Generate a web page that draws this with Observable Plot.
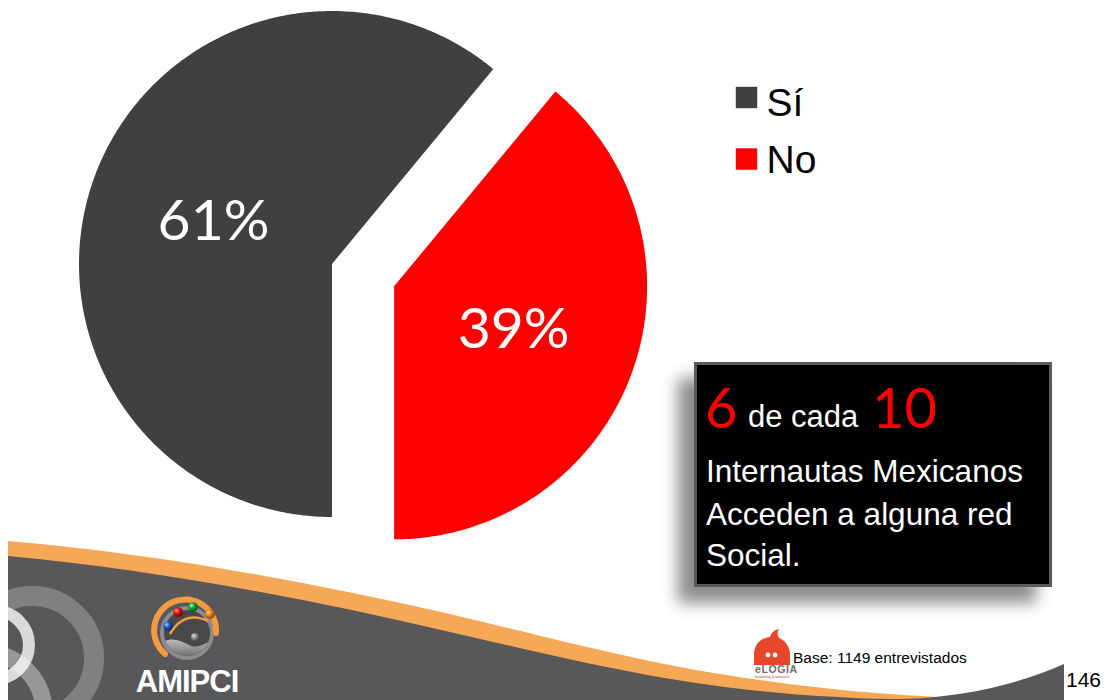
<!DOCTYPE html>
<html><head><meta charset="utf-8">
<script src="https://cdn.jsdelivr.net/npm/d3@7"></script>
<script src="https://cdn.jsdelivr.net/npm/@observablehq/plot@0.6"></script>
<style>
html,body{margin:0;padding:0;background:#fff;}
#wrap{position:relative;width:1104px;height:700px;overflow:hidden;background:#fff;}
#wrap > svg{position:absolute;left:0;top:0;}
</style></head><body>
<div id="wrap">
<svg id="decor" width="1104" height="700" viewBox="0 0 1104 700" xmlns="http://www.w3.org/2000/svg">
<defs>
  <clipPath id="band"><path d="M8,556 C150,569 300,597 450,632 C560,657 650,680 760,691 C820,697 870,699 900,699 C960,698 1020,684 1064,664 L1064,700 L8,700 Z"/></clipPath>
  <clipPath id="inner"><circle cx="187" cy="633" r="23"/></clipPath>
  <radialGradient id="gRed" cx="35%" cy="35%" r="70%"><stop offset="0" stop-color="#ff9a90"/><stop offset="0.45" stop-color="#e01414"/><stop offset="1" stop-color="#700000"/></radialGradient>
  <radialGradient id="gGreen" cx="35%" cy="35%" r="70%"><stop offset="0" stop-color="#a8f0a0"/><stop offset="0.45" stop-color="#17a030"/><stop offset="1" stop-color="#064a10"/></radialGradient>
  <radialGradient id="gBlue" cx="35%" cy="35%" r="70%"><stop offset="0" stop-color="#a8c8ff"/><stop offset="0.45" stop-color="#2057c8"/><stop offset="1" stop-color="#0a1f60"/></radialGradient>
  <radialGradient id="gOrange" cx="35%" cy="35%" r="70%"><stop offset="0" stop-color="#ffd8a0"/><stop offset="0.45" stop-color="#f07a10"/><stop offset="1" stop-color="#8a3a00"/></radialGradient>
  <radialGradient id="gGray" cx="35%" cy="35%" r="70%"><stop offset="0" stop-color="#e0e0e0"/><stop offset="0.5" stop-color="#8a8a8a"/><stop offset="1" stop-color="#444"/></radialGradient>
  <linearGradient id="hill" x1="0" y1="0" x2="0" y2="1"><stop offset="0" stop-color="#c4c4c6"/><stop offset="1" stop-color="#5e5e60"/></linearGradient>
  <filter id="shadow" x="-30%" y="-30%" width="160%" height="170%">
    <feGaussianBlur in="SourceAlpha" stdDeviation="8"/>
    <feOffset dx="-16" dy="16" result="b"/>
    <feFlood flood-color="#000" flood-opacity="0.45"/>
    <feComposite in2="b" operator="in"/>
    <feMerge><feMergeNode/><feMergeNode in="SourceGraphic"/></feMerge>
  </filter>
</defs>
<!-- footer band -->
<path d="M8,541 C150,553 300,580 450,614 C560,640 650,665 760,680 C830,690 880,694 940,697 L940,700 L8,700 Z" fill="#f7a857"/>
<path d="M8,556 C150,569 300,597 450,632 C560,657 650,680 760,691 C820,697 870,699 900,699 C960,698 1020,684 1064,664 L1064,700 L8,700 Z" fill="#58585a"/>
<g clip-path="url(#band)" fill="none">
  <circle cx="32" cy="658" r="62" stroke="#ffffff" stroke-opacity="0.24" stroke-width="20"/>
  <circle cx="-15" cy="712" r="59" stroke="#ffffff" stroke-opacity="0.38" stroke-width="17"/>
  <circle cx="-5" cy="645" r="34" stroke="#ffffff" stroke-opacity="0.78" stroke-width="12"/>
</g>
<!-- AMIPCI logo -->
<g>
  <circle cx="187" cy="633" r="25" fill="#48484a" stroke="#8c8c8e" stroke-width="4"/>
  <path clip-path="url(#inner)" d="M160,644 C170,636 180,640 189,645 C197,649 204,645 215,638 L215,660 L160,660 Z" fill="url(#hill)"/>
  <path d="M165,654 A31,31 0 1,1 216,633" fill="none" stroke="#f39a45" stroke-width="6" stroke-linecap="round"/>
  <path d="M170,634 Q184,610 208,621" fill="none" stroke="#f39a45" stroke-width="2.5"/>
  <circle cx="195" cy="637" r="4" fill="url(#gGray)"/>
  <circle cx="168" cy="626" r="4.8" fill="url(#gBlue)"/>
  <circle cx="178" cy="612" r="4.8" fill="url(#gRed)"/>
  <circle cx="193" cy="607" r="4.8" fill="url(#gGreen)"/>
  <circle cx="210" cy="614" r="4.8" fill="url(#gOrange)"/>
  <text x="187" y="692" text-anchor="middle" font-family="Liberation Sans, Arial, sans-serif" font-weight="bold" font-size="31" fill="#ffffff" letter-spacing="-1">AMIPCI</text>
</g>
<!-- eLogia logo -->
<g>
  <path d="M754,665 L754,655 C754,644 761,638 770,637 C771,633 774,630 779,629 C777,632 777,635 779,638 C786,641 790,647 790,655 L790,665 Z" fill="#e8462b"/>
  <circle cx="768" cy="655" r="2.4" fill="#fff"/>
  <circle cx="775" cy="655" r="2.4" fill="#fff"/>
  <text x="755" y="673" font-family="Liberation Sans, Arial, sans-serif" font-weight="bold" font-size="10.5" fill="#6d6d6d" letter-spacing="0.6">eLOGIA</text>
  <text x="755" y="678" font-family="Liberation Sans, Arial, sans-serif" font-size="3.6" fill="#c0392b">marketing &amp; research</text>
</g>
<text x="793" y="663" font-family="Liberation Sans, Arial, sans-serif" font-size="15.5" fill="#000">Base: 1149 entrevistados</text>
<text x="1066" y="687" font-family="Liberation Sans, Arial, sans-serif" font-size="21" fill="#000">146</text>
<!-- text box -->
<g filter="url(#shadow)">
  <rect x="695.5" y="363.5" width="355" height="222" fill="#000" stroke="#5a5a5a" stroke-width="3"/>
</g>
<text x="705" y="428" font-family="Lato, 'Open Sans', sans-serif" font-weight="400" font-size="56" fill="#ff0000">6</text>
<text x="748" y="427" font-family="Liberation Sans, Arial, sans-serif" font-size="31" fill="#ffffff">de cada</text>
<text x="872" y="428" font-family="Lato, 'Open Sans', sans-serif" font-weight="400" font-size="56" fill="#ff0000">10</text>
<text x="706" y="482" font-family="Liberation Sans, Arial, sans-serif" font-size="31.5" fill="#ffffff">Internautas Mexicanos</text>
<text x="706" y="525" font-family="Liberation Sans, Arial, sans-serif" font-size="31.5" fill="#ffffff">Acceden a alguna red</text>
<text x="706" y="566" font-family="Liberation Sans, Arial, sans-serif" font-size="31.5" fill="#ffffff">Social.</text>
</svg>
</div>
<script>
// ---- data ----
const categories = ["Sí", "No"];
const values = [61, 39];
const colors = ["#404040", "#ff0000"];
const labels = values.map(v => v + "%");

// ---- layout ----
const W = 1104, H = 700;
const R = 253;
const center = [332, 264];
const explode = [0, 66];

const arcs = d3.pie().sort(null).startAngle(Math.PI).endAngle(3 * Math.PI)(values);

const pieRows = [];
const labelRows = [];
arcs.forEach((a, i) => {
  const mid = (a.startAngle + a.endAngle) / 2;
  const ox = center[0] + explode[i] * Math.sin(mid);
  const oy = center[1] - explode[i] * Math.cos(mid);
  const n = Math.ceil((a.endAngle - a.startAngle) / (Math.PI / 360));
  for (let k = 0; k <= n; k++) {
    const t = a.startAngle + (a.endAngle - a.startAngle) * k / n;
    pieRows.push({cat: categories[i], x1: ox + R * Math.sin(t), y1: oy - R * Math.cos(t), x2: ox, y2: oy});
  }
  labelRows.push({cat: categories[i], text: labels[i], x: ox + R / 2 * Math.sin(mid), y: oy - R / 2 * Math.cos(mid)});
});

const legendRows = categories.map((c, i) => ({cat: c, y: 97 + i * 61.5, ty: 103 + i * 57}));

const chart = Plot.plot({
  width: W, height: H, margin: 0,
  x: {domain: [0, W], range: [0, W], axis: null},
  y: {domain: [0, H], range: [0, H], axis: null},
  color: {domain: categories, range: colors},
  style: {background: "transparent", overflow: "visible"},
  marks: [
    Plot.area(pieRows, {x1: "x1", y1: "y1", x2: "x2", y2: "y2", z: "cat", fill: "cat"}),
    Plot.text(labelRows, {x: "x", y: "y", text: "text", fill: "white", fontSize: 57, fontFamily: "Lato, 'Open Sans', sans-serif", fontWeight: 400}),
    Plot.dot(legendRows, {x: () => 746, y: "y", symbol: "square", r: 12.1, fill: "cat"}),
    Plot.text(legendRows, {x: () => 766, y: "ty", text: "cat", fill: "black", fontSize: 39, textAnchor: "start", fontFamily: "Liberation Sans, Arial, sans-serif"})
  ]
});
document.getElementById("wrap").appendChild(chart);
</script>
</body></html>
